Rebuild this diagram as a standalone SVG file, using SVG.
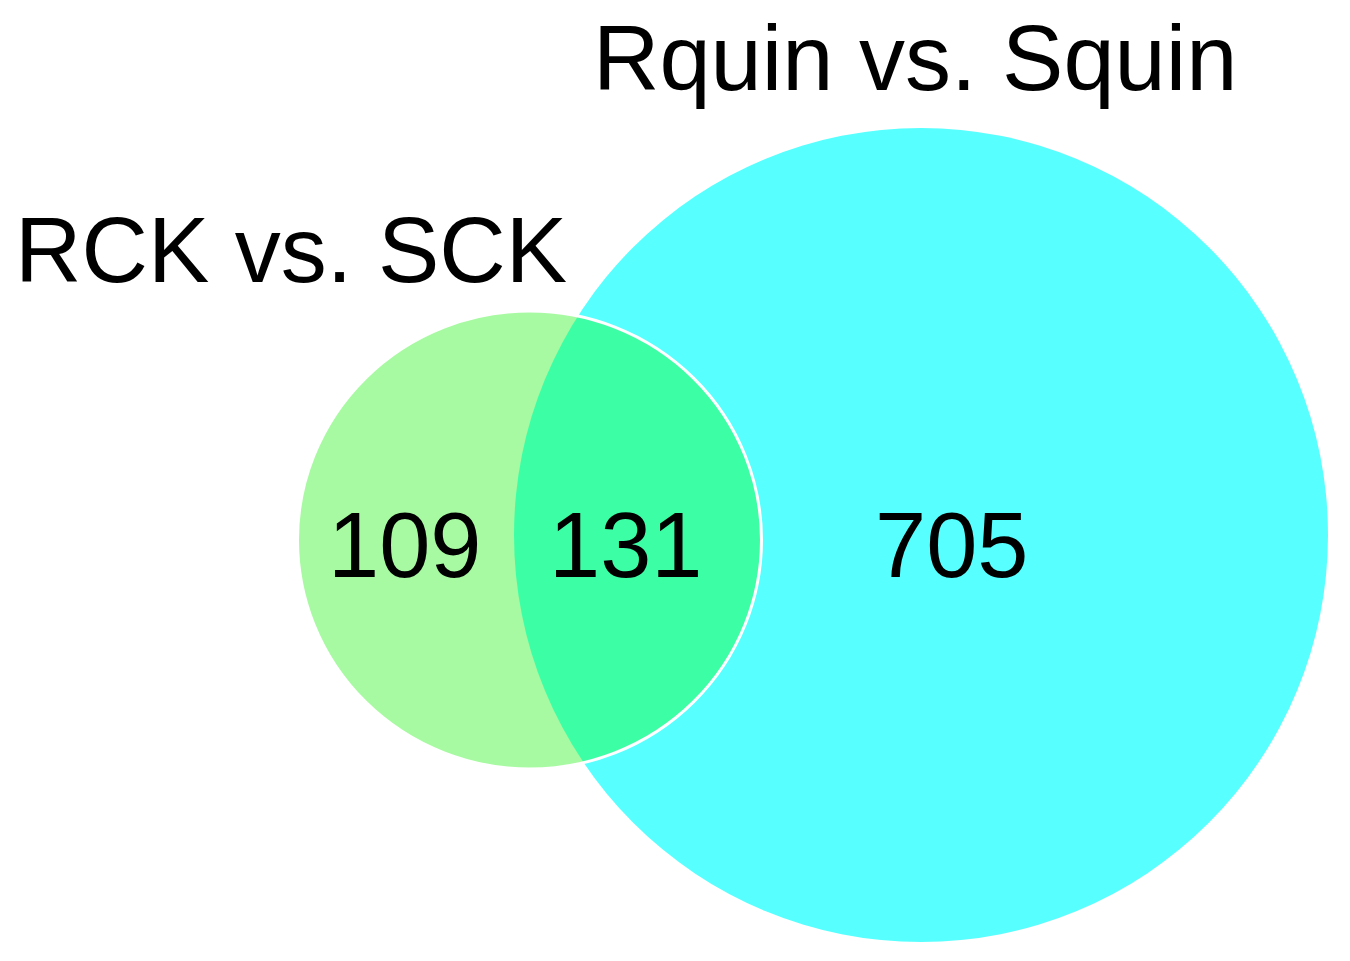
<svg xmlns="http://www.w3.org/2000/svg" width="1350" height="961" viewBox="0 0 1350 961">
<style>
.t{font-family:"Liberation Sans",Arial,sans-serif;font-size:92px;fill:#000}
</style>
<defs>
<clipPath id="smallClip"><ellipse cx="529.5" cy="540" rx="232" ry="229"/></clipPath>
</defs>
<rect width="1350" height="961" fill="#fff"/>
<g id="set-rquin">
<circle cx="921" cy="535" r="407" fill="#58FFFF"/>
</g>
<g id="set-rck">
<ellipse cx="529.5" cy="540" rx="232" ry="229" fill="#A8FAA2"/>
</g>
<g id="overlap">
<circle cx="921" cy="535" r="407" fill="#3CFFA5" clip-path="url(#smallClip)"/>
<ellipse cx="529.5" cy="540" rx="232" ry="229" fill="none" stroke="#fff" stroke-width="3"/>
</g>
<g id="labels">
<text class="t" x="593" y="90">Rquin vs. Squin</text>
<text class="t" x="15" y="282">RCK vs. SCK</text>
<text class="t" x="328" y="577">109</text>
<text class="t" x="549" y="577">131</text>
<text class="t" x="875" y="577">705</text>
</g>
<g id="connectors"/>
</svg>
